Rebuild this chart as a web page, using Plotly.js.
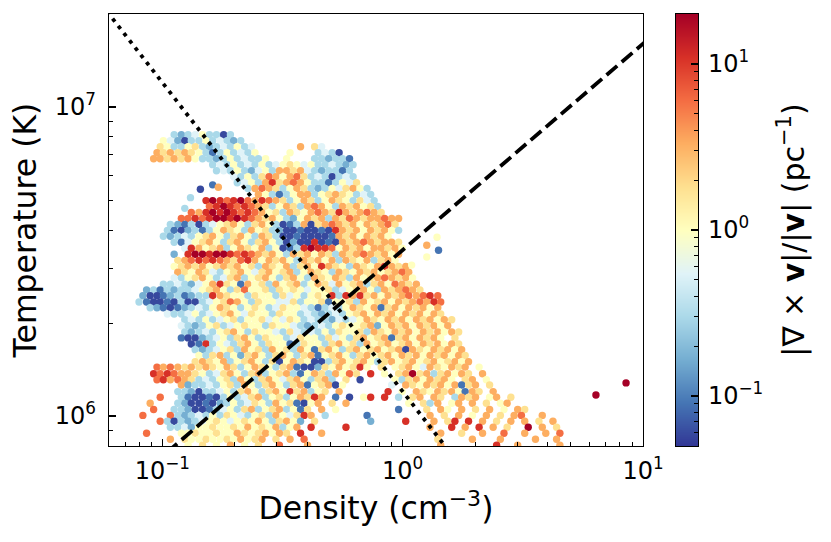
<!DOCTYPE html>
<html>
<head>
<meta charset="utf-8">
<script src="https://cdn.plot.ly/plotly-3.0.1.min.js"></script>
<style>html,body{margin:0;padding:0;background:#fff;}#chart{width:831px;height:542px;}</style>
</head>
<body>
<div id="chart"></div>
<script>
// Temperature of each horizontal stripe of cells (in units of 10^6 K)
const rowTemperatureMK = [8.13,7.78,7.44,7.11,6.80,6.51,6.22,5.95,5.69,5.45,5.21,4.98,4.77,4.56,4.36,4.17,3.99,3.82,3.65,3.49,3.34,3.19,3.05,2.92,2.80,2.67,2.56,2.45,2.34,2.24,2.14,2.05,1.96,1.87,1.79,1.71,1.64,1.57,1.50,1.44,1.37,1.31,1.26,1.20,1.15,1.10,1.05,1.005,0.962,0.920,0.880,0.841,0.805];

// Density (cm^-3) of the cells in each stripe
const rowDensity = [
[0.112,0.120,0.128,0.137,0.147,0.157,0.168,0.180,0.192],
[0.101,0.108,0.116,0.124,0.132,0.142,0.152,0.162,0.174,0.186,0.198,0.212],
[0.098,0.105,0.112,0.120,0.128,0.137,0.147,0.157,0.168,0.180,0.192,0.205,0.220,0.235,0.376,0.430,0.460],
[0.095,0.101,0.108,0.116,0.124,0.132,0.142,0.152,0.162,0.174,0.186,0.198,0.212,0.227,0.243,0.340,0.445,0.476,0.509,0.544],
[0.092,0.098,0.105,0.112,0.120,0.128,0.137,0.147,0.157,0.168,0.180,0.192,0.205,0.220,0.235,0.251,0.269,0.329,0.430,0.460,0.492,0.526,0.562,0.601],
[0.162,0.174,0.186,0.198,0.212,0.227,0.243,0.260,0.278,0.297,0.318,0.340,0.363,0.389,0.416,0.445,0.476,0.509,0.544,0.581,0.622],
[0.168,0.180,0.192,0.205,0.220,0.235,0.251,0.269,0.287,0.307,0.329,0.351,0.376,0.402,0.430,0.460,0.492,0.526,0.562,0.601],
[0.198,0.212,0.227,0.243,0.260,0.278,0.297,0.318,0.340,0.363,0.389,0.416,0.445,0.476,0.509,0.544,0.581,0.622],
[0.205,0.220,0.235,0.251,0.269,0.287,0.307,0.329,0.351,0.376,0.402,0.430,0.460,0.492,0.526,0.562,0.601,0.643],
[0.227,0.243,0.260,0.278,0.297,0.318,0.340,0.363,0.389,0.416,0.445,0.476,0.509,0.544,0.581,0.622,0.665,0.711],
[0.251,0.269,0.287,0.307,0.329,0.351,0.376,0.402,0.430,0.460,0.492,0.526,0.562,0.601,0.643,0.688,0.736],
[0.152,0.162,0.174,0.186,0.198,0.212,0.227,0.243,0.260,0.278,0.297,0.318,0.340,0.363,0.389,0.416,0.445,0.476,0.509,0.544,0.581,0.622,0.665,0.711,0.761],
[0.157,0.168,0.180,0.192,0.205,0.220,0.235,0.251,0.269,0.287,0.307,0.329,0.351,0.376,0.402,0.430,0.460,0.492,0.526,0.562,0.601,0.643,0.688,0.736,0.787],
[0.132,0.142,0.152,0.162,0.174,0.186,0.198,0.212,0.227,0.243,0.260,0.278,0.297,0.318,0.340,0.363,0.389,0.416,0.445,0.476,0.509,0.544,0.581,0.622,0.665,0.711,0.761,0.814],
[0.120,0.128,0.137,0.147,0.157,0.168,0.180,0.192,0.205,0.220,0.235,0.251,0.269,0.287,0.307,0.329,0.351,0.376,0.402,0.430,0.460,0.492,0.526,0.562,0.601,0.643,0.688,0.736,0.787,0.841,0.900,0.962],
[0.108,0.116,0.124,0.132,0.142,0.152,0.162,0.174,0.186,0.198,0.212,0.227,0.243,0.260,0.278,0.297,0.318,0.340,0.363,0.389,0.416,0.445,0.476,0.509,0.544,0.581,0.622,0.665,0.711,0.761,0.814,0.870,0.930],
[0.105,0.112,0.120,0.128,0.137,0.147,0.157,0.168,0.180,0.192,0.205,0.220,0.235,0.251,0.269,0.287,0.307,0.329,0.351,0.376,0.402,0.430,0.460,0.492,0.526,0.562,0.601,0.643,0.688,0.736,0.787,0.841,0.900,0.962],
[0.101,0.108,0.116,0.124,0.132,0.142,0.152,0.162,0.174,0.186,0.198,0.212,0.227,0.243,0.260,0.278,0.297,0.318,0.340,0.363,0.389,0.416,0.445,0.476,0.509,0.544,0.581,0.622,0.665,0.711,0.761,0.814,0.870],
[0.112,0.120,0.128,0.137,0.147,0.157,0.168,0.180,0.192,0.205,0.220,0.235,0.251,0.269,0.287,0.307,0.329,0.351,0.376,0.402,0.430,0.460,0.492,0.526,0.562,0.601,0.643,0.688,0.736,0.787,0.841,0.900,0.962],
[0.124,0.132,0.142,0.152,0.162,0.174,0.186,0.198,0.212,0.227,0.243,0.260,0.278,0.297,0.318,0.340,0.363,0.389,0.416,0.445,0.476,0.509,0.544,0.581,0.622,0.665,0.711,0.761,0.814,0.870,0.930,0.995],
[0.112,0.128,0.137,0.147,0.157,0.168,0.180,0.192,0.205,0.220,0.235,0.251,0.269,0.287,0.307,0.329,0.351,0.376,0.402,0.430,0.460,0.492,0.526,0.562,0.601,0.643,0.688,0.736,0.787,0.841,0.900,0.962],
[0.116,0.124,0.132,0.142,0.152,0.162,0.174,0.186,0.198,0.212,0.227,0.243,0.260,0.278,0.297,0.318,0.340,0.363,0.389,0.416,0.445,0.476,0.509,0.544,0.581,0.622,0.665,0.711,0.761,0.814,0.870,0.930],
[0.112,0.120,0.128,0.137,0.147,0.157,0.168,0.180,0.192,0.205,0.220,0.235,0.251,0.269,0.287,0.307,0.329,0.351,0.376,0.402,0.430,0.460,0.492,0.526,0.562,0.601,0.643,0.688,0.736,0.787,0.841,0.900,0.962,1.03],
[0.116,0.124,0.132,0.142,0.152,0.162,0.174,0.186,0.198,0.212,0.227,0.243,0.260,0.278,0.297,0.318,0.340,0.363,0.389,0.416,0.445,0.476,0.509,0.544,0.581,0.622,0.665,0.711,0.761,0.814,0.870,0.930,0.995,1.06],
[0.112,0.120,0.128,0.137,0.147,0.157,0.168,0.180,0.192,0.205,0.220,0.235,0.251,0.269,0.287,0.307,0.329,0.351,0.376,0.402,0.430,0.460,0.492,0.526,0.562,0.601,0.643,0.688,0.736,0.787,0.841,0.900,0.962,1.03,1.10],
[0.101,0.108,0.116,0.124,0.132,0.142,0.152,0.162,0.174,0.186,0.198,0.212,0.227,0.243,0.260,0.278,0.297,0.318,0.340,0.363,0.389,0.416,0.445,0.476,0.509,0.544,0.581,0.622,0.665,0.711,0.761,0.814,0.870,0.930,0.995,1.06,1.14],
[0.086,0.092,0.098,0.105,0.112,0.120,0.128,0.137,0.147,0.157,0.168,0.180,0.192,0.205,0.220,0.235,0.251,0.269,0.287,0.307,0.329,0.351,0.376,0.402,0.430,0.460,0.492,0.526,0.562,0.601,0.643,0.688,0.736,0.787,0.841,0.900,0.962,1.03,1.10,1.18],
[0.083,0.089,0.095,0.101,0.108,0.116,0.124,0.132,0.142,0.152,0.162,0.174,0.186,0.198,0.212,0.227,0.243,0.260,0.278,0.297,0.318,0.340,0.363,0.389,0.416,0.445,0.476,0.509,0.544,0.581,0.622,0.665,0.711,0.761,0.814,0.870,0.930,0.995,1.06,1.14,1.22,1.30,1.40],
[0.080,0.086,0.092,0.098,0.105,0.112,0.120,0.128,0.137,0.147,0.157,0.168,0.180,0.192,0.205,0.220,0.235,0.251,0.269,0.287,0.307,0.329,0.351,0.376,0.402,0.430,0.460,0.492,0.526,0.562,0.601,0.643,0.688,0.736,0.787,0.841,0.900,0.962,1.03,1.10,1.18,1.26,1.35,1.44],
[0.089,0.095,0.101,0.108,0.116,0.124,0.132,0.142,0.152,0.162,0.174,0.186,0.198,0.212,0.227,0.243,0.260,0.278,0.297,0.318,0.340,0.363,0.389,0.416,0.445,0.476,0.509,0.544,0.581,0.622,0.665,0.711,0.761,0.814,0.870,0.930,0.995,1.06,1.14,1.22,1.30,1.40],
[0.105,0.112,0.120,0.128,0.137,0.147,0.157,0.168,0.180,0.192,0.205,0.220,0.235,0.251,0.269,0.287,0.307,0.329,0.351,0.376,0.402,0.430,0.460,0.492,0.526,0.562,0.601,0.643,0.688,0.736,0.787,0.841,0.900,0.962,1.03,1.10,1.18,1.26,1.35,1.44],
[0.124,0.132,0.142,0.152,0.162,0.174,0.186,0.198,0.212,0.227,0.243,0.260,0.278,0.297,0.318,0.340,0.363,0.389,0.416,0.445,0.476,0.509,0.544,0.581,0.622,0.665,0.711,0.761,0.814,0.870,0.930,0.995,1.06,1.14,1.22,1.30,1.40,1.49,1.60],
[0.120,0.128,0.137,0.147,0.157,0.168,0.180,0.192,0.205,0.220,0.235,0.251,0.269,0.287,0.307,0.329,0.351,0.376,0.402,0.430,0.460,0.492,0.526,0.562,0.601,0.643,0.688,0.736,0.787,0.841,0.900,0.962,1.03,1.10,1.18,1.26,1.35,1.44,1.54],
[0.124,0.132,0.142,0.152,0.162,0.174,0.186,0.198,0.212,0.227,0.243,0.260,0.278,0.297,0.318,0.340,0.363,0.389,0.416,0.445,0.476,0.509,0.544,0.581,0.622,0.665,0.711,0.761,0.814,0.870,0.930,0.995,1.06,1.14,1.22,1.30,1.40,1.49,1.60,1.71],
[0.120,0.128,0.137,0.147,0.157,0.168,0.180,0.192,0.205,0.220,0.235,0.251,0.269,0.287,0.307,0.329,0.351,0.376,0.402,0.430,0.460,0.492,0.526,0.562,0.601,0.643,0.688,0.736,0.787,0.841,0.900,0.962,1.03,1.10,1.18,1.26,1.35,1.44,1.65],
[0.132,0.142,0.152,0.162,0.174,0.186,0.198,0.212,0.227,0.243,0.260,0.278,0.297,0.318,0.340,0.363,0.389,0.416,0.445,0.476,0.509,0.544,0.581,0.622,0.665,0.711,0.761,0.814,0.870,0.930,0.995,1.06,1.14,1.22,1.30,1.40,1.49,1.60,1.71],
[0.137,0.147,0.157,0.168,0.180,0.192,0.205,0.220,0.235,0.251,0.269,0.287,0.307,0.329,0.351,0.376,0.402,0.430,0.460,0.492,0.526,0.562,0.601,0.643,0.688,0.736,0.787,0.841,0.900,0.962,1.03,1.10,1.18,1.26,1.35,1.44,1.54,1.65,1.76],
[0.142,0.152,0.162,0.174,0.186,0.198,0.212,0.227,0.243,0.260,0.278,0.297,0.318,0.340,0.363,0.389,0.416,0.445,0.476,0.509,0.544,0.581,0.622,0.665,0.711,0.761,0.814,0.870,0.930,0.995,1.06,1.14,1.22,1.30,1.40,1.49,1.60,1.71,1.82],
[0.137,0.147,0.157,0.168,0.180,0.192,0.205,0.220,0.235,0.251,0.269,0.287,0.307,0.329,0.351,0.376,0.402,0.430,0.460,0.492,0.526,0.562,0.601,0.643,0.688,0.736,0.787,0.841,0.900,0.962,1.03,1.10,1.18,1.26,1.35,1.44,1.54,1.65,1.76,1.88],
[0.095,0.101,0.108,0.116,0.124,0.132,0.142,0.152,0.162,0.174,0.186,0.198,0.212,0.227,0.243,0.260,0.278,0.297,0.318,0.340,0.363,0.389,0.416,0.445,0.476,0.509,0.544,0.581,0.622,0.665,0.711,0.814,0.930,0.995,1.06,1.14,1.22,1.30,1.40,1.49,1.60,1.71,1.82,2.08],
[0.092,0.098,0.105,0.112,0.120,0.128,0.137,0.147,0.157,0.168,0.180,0.192,0.205,0.220,0.235,0.251,0.269,0.287,0.307,0.329,0.351,0.376,0.402,0.430,0.460,0.492,0.526,0.562,0.601,0.643,0.736,0.841,0.962,1.03,1.10,1.18,1.26,1.35,1.44,1.54,1.65,1.76,1.88,2.15],
[0.095,0.101,0.108,0.116,0.124,0.132,0.142,0.152,0.162,0.174,0.186,0.198,0.212,0.227,0.243,0.260,0.278,0.297,0.318,0.340,0.363,0.389,0.416,0.445,0.476,0.509,0.581,0.665,0.930,0.995,1.06,1.14,1.22,1.30,1.40,1.49,1.60,1.82,1.95,2.23],
[0.120,0.128,0.137,0.147,0.157,0.168,0.180,0.192,0.205,0.220,0.235,0.251,0.269,0.287,0.307,0.329,0.351,0.376,0.402,0.430,0.460,0.492,0.526,0.562,0.900,1.03,1.10,1.18,1.26,1.35,1.44,1.54,1.65,1.76,1.88,2.01,2.30],
[0.116,0.124,0.132,0.142,0.152,0.162,0.174,0.186,0.198,0.212,0.227,0.243,0.260,0.278,0.297,0.318,0.340,0.363,0.389,0.416,0.445,0.476,0.544,0.870,0.995,1.14,1.22,1.30,1.40,1.49,1.60,1.71,1.82,1.95,2.08,2.38],
[0.098,0.120,0.128,0.137,0.147,0.157,0.168,0.180,0.192,0.205,0.220,0.235,0.251,0.269,0.287,0.307,0.329,0.351,0.376,0.402,0.430,0.460,0.526,0.601,0.688,0.736,0.841,0.962,1.10,1.18,1.35,1.44,1.65,1.76,1.88,2.01,2.30,2.46,2.82],
[0.089,0.116,0.124,0.132,0.142,0.152,0.162,0.174,0.186,0.198,0.212,0.227,0.243,0.260,0.278,0.297,0.318,0.340,0.363,0.389,0.416,0.445,0.509,0.581,1.06,1.22,1.30,1.40,1.60,1.71,1.95,2.23,2.55,2.72],
[0.092,0.112,0.120,0.128,0.137,0.147,0.157,0.168,0.180,0.192,0.205,0.220,0.235,0.251,0.269,0.287,0.307,0.329,0.351,0.376,0.402,0.460,0.526,0.962,1.26,1.44,1.54,1.76,2.01,2.30,2.64,3.01,3.22],
[0.083,0.108,0.116,0.124,0.132,0.142,0.152,0.162,0.174,0.186,0.198,0.212,0.227,0.243,0.260,0.278,0.297,0.318,0.340,0.363,0.389,0.416,0.476,0.711,1.30,1.49,1.71,1.95,2.23,2.55,2.91,3.12,3.81],
[0.098,0.105,0.112,0.120,0.128,0.137,0.147,0.157,0.168,0.180,0.192,0.205,0.220,0.235,0.251,0.269,0.287,0.307,0.329,0.351,0.376,0.430,0.736,1.03,1.35,1.54,1.65,1.88,2.15,2.46,2.82,3.22,3.69,4.22],
[0.108,0.116,0.124,0.132,0.142,0.152,0.162,0.174,0.186,0.198,0.212,0.227,0.243,0.260,0.278,0.297,0.318,0.340,0.363,0.416,0.581,1.30,1.60,1.82,2.08,2.38,2.72,3.33,3.81,4.37],
[0.086,0.120,0.128,0.137,0.147,0.157,0.168,0.180,0.192,0.205,0.220,0.235,0.251,0.269,0.287,0.307,0.329,0.376,0.460,1.44,1.76,2.15,2.64,3.22,3.94,4.51],
[0.108,0.124,0.132,0.142,0.152,0.162,0.174,0.186,0.198,0.212,0.227,0.243,0.260,0.297,0.340,0.389,1.40,1.95,2.55,3.57,4.37],
[0.128,0.147,0.168,0.192,0.220,0.251,0.307,0.402,1.44,2.46,3.01,4.51]
];

// |curl v|/|v| (pc^-1) of the same cells
const rowCurl = [
[0.3,0.17,0.3,0.55,1,0.3,0.3,0.06,0.3],
[1,0.55,0.17,0.06,0.3,0.3,1,0.3,0.55,0.3,0.17,0.3],
[1.8,1,0.3,0.3,1,1.8,0.3,0.17,0.3,0.55,0.3,1,0.3,0.55,3.3,1.8,0.55],
[3.3,1.8,3.3,1.8,3.3,1.8,1,0.3,0.09,0.3,1,0.3,0.55,0.3,1,1,0.3,0.55,0.3,0.06],
[3.3,3.3,1.8,3.3,1.8,3.3,1,0.3,0.3,0.17,0.3,1,0.3,0.55,0.3,0.3,1,1,0.3,0.3,0.17,0.3,0.3,0.09],
[0.3,0.55,0.3,1,0.3,0.55,0.3,1,0.3,0.55,1,1.8,1,0.55,1,0.3,0.3,0.55,0.3,0.17,0.3],
[0.3,0.55,0.3,1,0.3,0.17,0.55,1,0.3,3.3,3.3,1.8,3.3,0.55,0.3,0.17,0.3,0.3,0.09,0.3],
[0.55,0.3,1,0.3,1.8,6,3.3,1,3.3,6,1.8,0.3,0.55,0.3,0.06,0.3,0.55,0.3],
[0.3,0.55,1,0.3,3.3,11,1.8,3.3,6,3.3,1,0.3,0.3,0.09,0.3,1,0.55,1.8],
[0.3,3.3,6,3.3,1.8,0.3,1,3.3,1.8,0.3,0.17,0.3,1,0.55,1.8,3.3,1,0.3],
[3.3,1,0.3,0.09,0.3,1,3.3,3.3,0.3,1,1.8,3.3,1.8,1,0.3,0.55,0.3],
[11,20,11,6,11,20,6,3.3,11,6,3.3,1.8,0.3,1,3.3,1.8,0.3,1,3.3,1.8,1,0.3,1.8,0.55,0.3],
[6,11,20,11,6,11,6,3.3,1.8,0.3,1,3.3,1.8,0.3,3.3,6,3.3,1,0.3,3.3,1.8,3.3,1,1.8,0.3],
[6,3.3,11,20,11,20,11,6,11,6,3.3,1,1.8,0.3,3.3,1.8,1,3.3,6,3.3,1.8,11,3.3,1.8,3.3,6,3.3,1.8],
[6,6,11,6,11,20,20,11,20,11,6,3.3,1.8,3.3,1,0.3,0.17,1,3.3,1.8,3.3,0.3,3.3,1.8,6,3.3,1.8,3.3,3.3,6,3.3,3.3],
[0.3,0.17,0.09,0.3,0.06,0.3,0.55,1,1.8,3.3,1,0.3,1.8,3.3,1,0.3,0.06,0.09,0.3,3.3,0.06,1.8,3.3,6,3.3,1.8,3.3,1,3.3,1.8,3.3,6,1.8],
[0.3,0.09,0.06,0.17,0.3,0.09,0.3,1,3.3,1.8,1,0.3,3.3,1,1.8,0.3,0.17,0.06,0.06,0.09,0.06,0.06,0.09,0.06,11,3.3,1.8,3.3,1,3.3,1.8,3.3,1,0.3],
[0.3,0.17,0.3,0.55,0.3,1,1.8,3.3,1,0.3,1.8,3.3,1,0.3,3.3,1.8,0.3,0.06,0.06,0.09,0.06,0.06,0.06,0.06,0.09,3.3,1.8,3.3,1,3.3,1.8,3.3,1],
[0.3,0.09,0.55,1,1.8,3.3,1,0.3,1.8,3.3,1,0.3,1.8,3.3,1,0.3,0.06,0.17,0.06,0.06,11,0.06,0.09,0.06,3.3,1.8,3.3,6,3.3,1.8,3.3,3.3,1.8],
[0.55,11,3.3,1,1.8,3.3,0.3,1,3.3,1.8,1,3.3,0.3,1,0.06,0.09,0.3,11,20,11,11,6,1,3.3,1.8,3.3,1,3.3,3.3,1.8,3.3,1],
[0.17,11,20,20,11,20,20,11,6,11,6,3.3,1.8,3.3,1,0.3,3.3,1.8,3.3,1,3.3,1.8,0.3,3.3,1.8,3.3,6,3.3,1.8,3.3,1,3.3],
[1.8,3.3,6,11,6,11,6,3.3,1.8,6,11,3.3,1,3.3,1.8,3.3,1,0.3,3.3,1.8,3.3,1,3.3,0.3,3.3,1.8,1,3.3,0.3,1.8,3.3,1],
[1,1.8,3.3,1.8,3.3,1,1.8,3.3,1.8,3.3,1,1.8,0.3,3.3,1.8,1,3.3,0.3,1.8,3.3,1,11,3.3,1.8,1,0.3,3.3,1.8,1,3.3,11,3.3,1.8,3.3],
[3.3,1.8,1,3.3,1.8,0.55,0.3,1,1.8,3.3,1,0.55,1.8,3.3,1,1.8,3.3,0.3,1,3.3,1.8,1,0.3,3.3,1.8,1,3.3,1.8,3.3,1,1.8,3.3,6,3.3],
[0.55,0.3,1,1.8,3.3,1,0.3,0.55,1.8,3.3,0.3,1,1.8,3.3,1,0.3,1.8,3.3,1,0.3,3.3,1.8,1,3.3,1.8,0.3,3.3,1,1.8,3.3,6,3.3,1.8,3.3,1],
[0.3,0.3,0.55,0.3,0.17,0.55,1,3.3,11,1.8,1,0.09,3.3,1,1.8,0.3,3.3,1,1.8,3.3,0.3,1,3.3,1.8,0.55,3.3,1,1.8,3.3,0.3,1.8,3.3,1,6,3.3,1.8,3.3],
[0.17,0.3,0.09,0.3,0.17,0.3,0.3,0.55,1,1.8,3.3,1,0.3,1.8,6,1,1,1.8,0.3,1.8,1,1.8,1,0.55,1,1,1.8,0.3,0.55,1,1.8,3.3,1,0.3,3.3,1.8,3.3,6,3.3,1.8],
[0.17,0.06,0.06,0.09,0.17,0.3,0.09,0.17,0.3,0.3,11,3.3,1.8,1,1,0.3,1.8,1,1,0.3,1.8,0.55,1,0.3,1,1.8,1,11,0.3,11,3.3,11,1.8,3.3,1,3.3,1.8,3.3,6,3.3,6,11,6],
[0.3,0.09,0.06,0.06,0.09,0.06,0.3,0.06,0.06,0.3,0.55,1,1.8,6,3.3,1,0.3,1.8,1,1,0.55,0.55,1.8,0.3,1,1,1.8,0.09,1,1,1.8,0.3,3.3,1,1.8,3.3,1,3.3,1.8,3.3,6,3.3,11,6],
[0.3,0.17,0.09,0.06,0.09,0.17,0.3,0.55,0.3,1,3.3,1.8,1,0.3,1,1.8,1,0.3,0.55,1.8,1,1,0.55,0.3,0.09,0.3,0.55,0.3,1,3.3,1.8,1,3.3,0.09,1.8,3.3,1,3.3,1.8,3.3,1,3.3],
[0.55,0.3,0.3,0.55,1,0.3,0.55,1,1.8,3.3,1,0.55,1.8,1,1,0.3,1.8,1,1,0.3,0.55,0.3,0.17,0.3,0.55,0.3,1,1.8,3.3,1,3.3,1.8,3.3,1,3.3,1.8,3.3,1,3.3,1.8],
[0.3,0.55,0.3,1,0.3,0.55,1,1.8,0.3,1,1,1.8,0.55,1,0.55,1.8,1,0.3,0.55,0.3,0.3,0.17,0.55,0.3,0.55,1,3.3,1.8,1,3.3,1.8,3.3,1,3.3,1.8,3.3,1,3.3,1.8],
[0.55,0.3,0.17,0.3,1,1.8,0.3,0.55,1,1.8,1,1,0.3,1.8,1,1,0.55,0.3,0.17,0.3,0.55,0.3,1,1.8,1,1,1.8,3.3,0.17,1,3.3,1.8,3.3,1,3.3,1.8,3.3,1,3.3],
[0.3,0.17,0.3,0.55,0.3,1,1.8,3.3,1,0.3,1.8,1,1,0.55,0.3,1.8,0.55,0.3,0.55,0.3,1,0.3,1.8,1,1,1.8,0.3,3.3,1.8,1,3.3,1.8,3.3,1,3.3,1.8,3.3,1,3.3,1.8],
[0.09,0.06,0.06,0.17,0.3,0.55,1,0.3,1.8,3.3,1,0.3,1.8,1,1,0.3,0.55,1.8,1,1,0.3,1.8,0.55,1,0.3,1.8,3.3,1,1.8,3.3,0.09,1.8,3.3,1,3.3,1.8,3.3,1,1.8],
[0.06,0.09,11,0.3,1,0.55,0.3,1.8,3.3,1,0.3,1.8,1,1,0.09,0.3,1.8,1,1,0.3,1.8,3.3,1,1.8,0.3,3.3,1,1.8,3.3,1,1.8,3.3,1,3.3,1.8,3.3,1,3.3,1.8],
[0.3,0.17,0.3,0.55,1,1.8,0.3,3.3,1,1.8,0.3,3.3,1,1.8,0.3,3.3,1,0.09,1.8,3.3,1,0.3,1.8,3.3,1,1.8,3.3,1,1.8,3.3,0.06,3.3,1.8,1,3.3,1.8,3.3,1,3.3],
[1,0.3,1.8,3.3,0.3,1,0.17,1.8,3.3,1,0.3,1.8,3.3,1,0.3,1.8,3.3,0.09,1,1.8,3.3,1,0.3,1.8,3.3,1,1.8,3.3,1,3.3,1.8,3.3,1,3.3,1.8,3.3,1,3.3,1.8],
[1.8,3.3,1.8,1,3.3,0.3,1,1.8,3.3,1,0.3,1.8,0.06,1,3.3,1.8,1,0.06,0.06,0.3,1.8,3.3,1,1.8,3.3,1,0.3,1.8,3.3,1,1.8,3.3,1,1.8,3.3,1,1.8,3.3,1,3.3],
[6,3.3,6,3.3,1.8,3.3,1.8,3.3,1.8,1,3.3,1.8,0.3,1,3.3,1.8,1,0.3,1.8,3.3,0.09,0.06,0.06,0.17,1.8,1,3.3,1,1.8,11,1,1.8,1,1.8,3.3,1,0.55,3.3,1.8,1,3.3,1.8,3.3,1],
[11,6,11,6,3.3,3.3,1.8,1,0.3,0.55,1.8,3.3,1,0.3,1.8,3.3,0.3,1,1.8,3.3,0.3,0.09,1,3.3,1.8,0.3,3.3,1,6,1.8,11,1,1.8,3.3,20,1.8,3.3,0.3,1.8,3.3,1,3.3,1.8,3.3],
[6,11,3.3,6,3.3,1.8,0.3,0.55,0.3,1,1.8,0.3,3.3,1,0.3,1.8,3.3,1,0.55,1.8,3.3,1,0.3,1.8,3.3,0.3,1.8,0.06,1,0.3,1.8,3.3,1,3.3,1.8,3.3,1,1.8,3.3,1],
[3.3,0.17,0.3,0.3,0.55,0.3,1,1.8,0.3,3.3,1,0.3,1.8,3.3,1,0.3,1.8,3.3,0.09,1,1.8,3.3,0.06,1,0.55,3.3,1.8,1,3.3,1.8,3.3,1,3.3,0.09,1.8,3.3,1.8],
[0.3,0.3,0.17,0.06,0.3,0.3,0.55,1,0.3,1.8,3.3,1,0.3,1.8,3.3,1,11,1.8,3.3,0.3,1,1.8,3.3,11,1,3.3,1.8,1,3.3,1.8,3.3,1,0.09,3.3,1.8,3.3],
[6,0.3,0.09,0.06,0.06,0.09,0.06,0.3,1,0.3,0.55,1.8,3.3,0.3,1,1.8,0.3,1,3.3,1.8,11,3.3,0.09,0.06,1,11,11,0.3,1.8,3.3,3.3,1.8,0.3,3.3,1.8,3.3,1,3.3,1.8],
[3.3,0.3,0.17,0.06,0.06,0.09,0.06,0.17,0.3,1,0.3,0.55,1.8,1,0.3,3.3,1,1.8,0.09,0.06,1,3.3,1.8,3.3,1,1.8,0.3,3.3,1,3.3,3.3,1.8,1,3.3],
[6,0.3,0.3,0.17,0.06,0.06,0.09,0.3,0.55,1,0.3,1.8,3.3,0.3,1,1.8,3.3,0.3,1,0.09,1.8,3.3,1,0.09,1.8,3.3,1,3.3,1.8,3.3,1,3.3,1.8],
[6,6,0.3,0.17,0.3,0.55,0.3,1,0.3,1.8,1,0.55,0.3,1,1.8,0.3,3.3,1,0.55,1.8,11,3.3,0.3,0.09,3.3,1.8,3.3,1,3.3,1.8,3.3,6,3.3],
[6,0.3,0.06,0.3,0.17,0.3,0.55,1,1.8,1,0.55,1,1.8,1,3.3,1,0.3,1.8,3.3,1,0.17,1.8,0.17,11,3.3,1.8,11,11,3.3,1.8,3.3,3.3,1.8,3.3],
[0.3,0.3,0.55,0.17,1,1,1.8,1,1,1.8,1,3.3,1,1.8,1,3.3,0.3,1,3.3,11,11,3.3,11,3.3,11,3.3,1.8,20,3.3,1.8],
[6,1,1,1.8,1,1,1.8,1,1,3.3,1.8,1,1.8,3.3,1,3.3,1.8,11,3.3,3.3,1.8,3.3,6,3.3,3.3,6],
[3.3,1.8,1,1,1.8,1,1,1.8,1,3.3,1,1.8,3.3,1.8,3.3,6,1.8,3.3,3.3,3.3,3.3],
[1,1.8,1,3.3,1,1.8,6,3.3,3.3,11,3.3,3.3]
];

// Isolated cells away from the stripes
const sparseDensity = [6.37, 8.5, 0.162, 0.144, 0.171, 0.131, 0.124, 1.26, 1.41, 1.39, 1.09, 1.26];
const sparseTemperatureMK = [1.17, 1.28, 5.60, 5.42, 5.50, 5.09, 4.70, 3.57, 3.44, 3.79, 3.08, 3.27];
const sparseCurl = [20, 20, 0.09, 0.06, 3.3, 0.3, 0.3, 3.3, 0.09, 1, 1, 1];

// Reference lines (dotted: constant pressure; dashed: adiabat)
const isobarDensity = [0.05, 1.8];
const isobarTemperature = [2.4e7, 6.67e5];
const adiabatDensity = [0.09, 12];
const adiabatTemperature = [6.9e5, 1.81e7];

// Axis / colour-key ticks
const xTickVals = [0.1, 1, 10];
const xTickText = ['10<sup>−1</sup>', '10<sup>0</sup>', '10<sup>1</sup>'];
const xMinorVals = [0.07,0.08,0.09,0.2,0.3,0.4,0.5,0.6,0.7,0.8,0.9,2,3,4,5,6,7,8,9];
const yTickVals = [1e6, 1e7];
const yTickText = ['10<sup>6</sup>', '10<sup>7</sup>'];
const yMinorVals = [9e5,2e6,3e6,4e6,5e6,6e6,7e6,8e6,9e6];
const cbarMajor = [0.1, 1, 10];
const cbarMajorText = ['10<sup>−1</sup>', '10<sup>0</sup>', '10<sup>1</sup>'];
const cbarMinor = [0.06,0.07,0.08,0.09,0.2,0.3,0.4,0.5,0.6,0.7,0.8,0.9,2,3,4,5,6,7,8,9];
const curlRange = [0.05, 20];

const x = [], y = [], c = [];
rowTemperatureMK.forEach((t, i) => {
  rowDensity[i].forEach((n, j) => {
    x.push(n); y.push(t * 1e6); c.push(Math.log10(rowCurl[i][j]));
  });
});
sparseDensity.forEach((n, j) => {
  x.push(n); y.push(sparseTemperatureMK[j] * 1e6); c.push(Math.log10(sparseCurl[j]));
});

const RdYlBu_r = [
  [0.0, '#313695'], [0.1, '#4575b4'], [0.2, '#74add1'], [0.3, '#abd9e9'],
  [0.4, '#e0f3f8'], [0.5, '#ffffbf'], [0.6, '#fee090'], [0.7, '#fdae61'],
  [0.8, '#f46d43'], [0.9, '#d73027'], [1.0, '#a50026']
];

const cmin = Math.log10(curlRange[0]), cmax = Math.log10(curlRange[1]);
const font = 'DejaVu Sans, sans-serif';

// geometry: plot area 109..643 px, colour key 676..698 px (paper spans 109..831)
const paperW = 831 - 109;
const mainDomain = [0, 534 / paperW];
const keyDomain = [(676 - 109) / paperW, (698 - 109) / paperW];

const traces = [
  {
    type: 'scatter', mode: 'markers', x: x, y: y, hoverinfo: 'skip',
    marker: {size: 7.4, color: c, colorscale: RdYlBu_r, cmin: cmin, cmax: cmax,
             showscale: false, line: {width: 0}},
    showlegend: false
  },
  {
    type: 'scatter', mode: 'lines', x: isobarDensity, y: isobarTemperature, hoverinfo: 'skip',
    line: {color: '#000', width: 3.8, dash: '3.8px,5.4px'}, showlegend: false
  },
  {
    type: 'scatter', mode: 'lines', x: adiabatDensity, y: adiabatTemperature, hoverinfo: 'skip',
    line: {color: '#000', width: 3.8, dash: '14px,6px'}, showlegend: false
  },
  {
    // colour key: a smooth vertical ramp over the colour range
    type: 'heatmap', xaxis: 'x2', yaxis: 'y2', hoverinfo: 'skip',
    x: [0, 1], y: [cmin, cmax], z: [[cmin, cmin], [cmax, cmax]],
    zmin: cmin, zmax: cmax, zsmooth: 'best', colorscale: RdYlBu_r, showscale: false
  }
];

const axisCommon = {
  showgrid: false, zeroline: false,
  showline: true, linecolor: '#000', linewidth: 1.3, mirror: true,
  ticks: 'inside', ticklen: 7, tickwidth: 1.2, tickcolor: '#000',
  tickfont: {family: font, size: 24, color: '#000'},
  tickmode: 'array'
};

const layout = {
  width: 831, height: 542,
  margin: {l: 109, r: 0, t: 14, b: 96, pad: 0},
  paper_bgcolor: '#fff', plot_bgcolor: '#fff',
  xaxis: Object.assign({}, axisCommon, {
    type: 'log', domain: mainDomain, anchor: 'y',
    range: [Math.log10(0.06), 1],
    tickvals: xTickVals, ticktext: xTickText, ticklabelstandoff: 3,
    minor: {tickmode: 'array', tickvals: xMinorVals, ticks: 'inside', ticklen: 4, tickwidth: 1, tickcolor: '#000'},
    title: {text: 'Density (cm<sup>−3</sup>)', standoff: 13, font: {family: font, size: 31.5, color: '#000'}}
  }),
  yaxis: Object.assign({}, axisCommon, {
    type: 'log', domain: [0, 1], anchor: 'x',
    range: [Math.log10(8e5), Math.log10(2e7)],
    tickvals: yTickVals, ticktext: yTickText, ticklabelstandoff: 7,
    minor: {tickmode: 'array', tickvals: yMinorVals, ticks: 'inside', ticklen: 4, tickwidth: 1, tickcolor: '#000'},
    title: {text: 'Temperature (K)', standoff: 8, font: {family: font, size: 31.5, color: '#000'}}
  }),
  xaxis2: {
    domain: keyDomain, anchor: 'y2', range: [0, 1], fixedrange: true,
    showgrid: false, zeroline: false, showticklabels: false, ticks: '',
    showline: true, linecolor: '#000', linewidth: 1.2, mirror: true
  },
  yaxis2: Object.assign({}, axisCommon, {
    domain: [0, 1], anchor: 'x2', side: 'right', range: [cmin, cmax], linewidth: 1.2,
    tickvals: cbarMajor.map(v => Math.log10(v)), ticktext: cbarMajorText, ticklabelstandoff: 4,
    minor: {tickmode: 'array', tickvals: cbarMinor.map(v => Math.log10(v)), ticks: 'inside', ticklen: 4, tickwidth: 1, tickcolor: '#000'},
    title: {text: '|∇ × <b>v</b>|/|<b>v</b>| (pc<sup>−1</sup>)', standoff: 20,
            font: {family: font, size: 30, color: '#000'}}
  })
};

Plotly.newPlot('chart', traces, layout, {staticPlot: true, displayModeBar: false});
</script>
</body>
</html>
